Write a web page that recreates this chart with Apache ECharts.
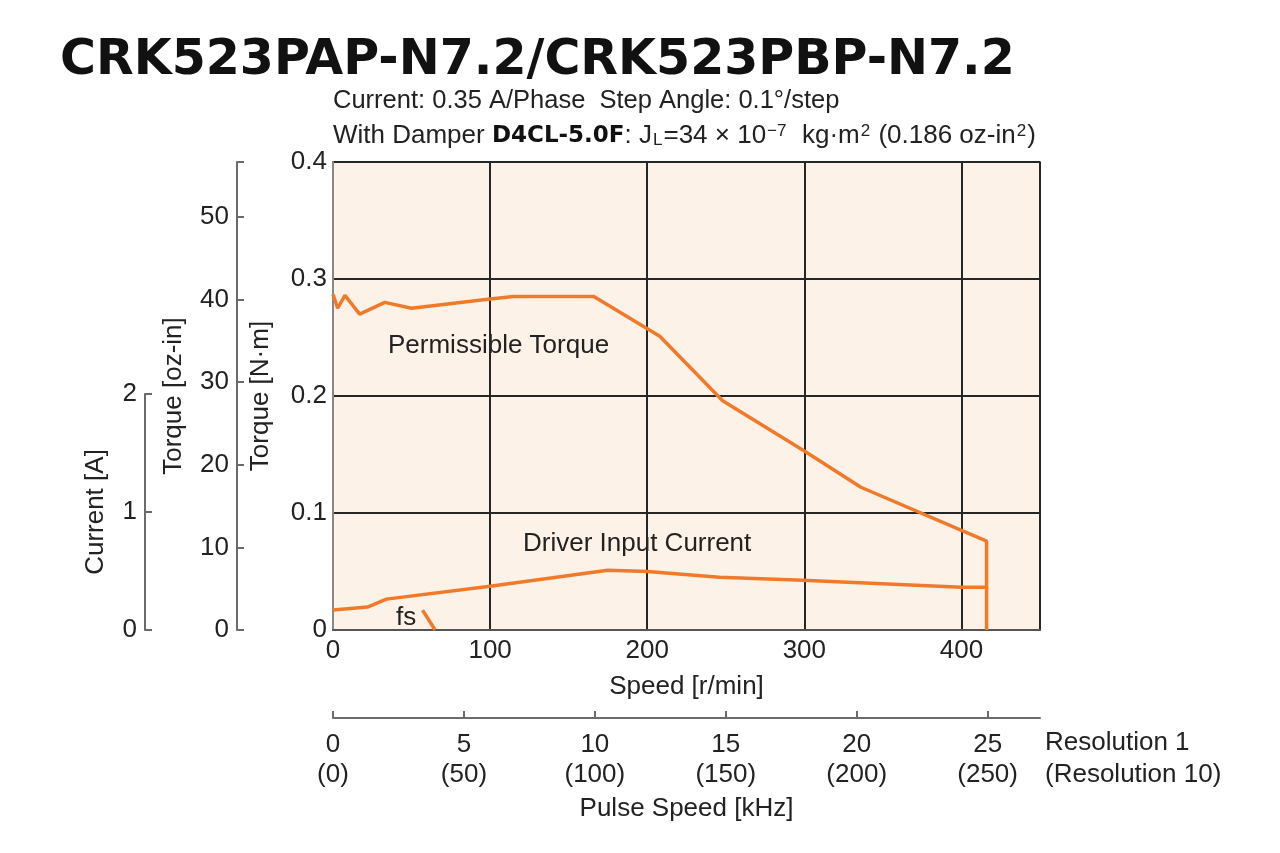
<!DOCTYPE html>
<html>
<head>
<meta charset="utf-8">
<script src="https://cdn.jsdelivr.net/npm/echarts@6/dist/echarts.min.js"></script>
<style>html,body{margin:0;padding:0;background:#fff}#c{width:1280px;height:853px}</style>
</head>
<body>
<div id="c"></div>
<script>
// ---- data ----
const speedTorque = [0, 3, 7.6, 17, 33, 50, 100, 115, 166, 208, 248, 300, 336, 416, 416];
const torqueNm    = [0.287, 0.275, 0.286, 0.270, 0.280, 0.275, 0.283, 0.285, 0.285, 0.251, 0.196, 0.153, 0.122, 0.076, 0];
const speedCurrent = [0, 22, 34, 100, 175, 200, 246, 299, 400, 416];
const currentA     = [0.17, 0.196, 0.264, 0.374, 0.51, 0.50, 0.45, 0.425, 0.366, 0.366];
const speedFs = [57, 65];
const torqueFs = [0.017, 0];
const speedTicks = [0, 100, 200, 300, 400];
const pulseTicks = [0, 5, 10, 15, 20, 25];
const torqueTicks = [0, 0.1, 0.2, 0.3, 0.4];
const ozinTicks = [0, 10, 20, 30, 40, 50];
const currentTicks = [0, 1, 2];

const SPEED_MAX = 450;
const RPM_PER_KHZ = 1000 * 0.1 / 360 * 60; // step angle 0.1 deg
const NM_PER_OZIN = 0.0070616;
const TORQUE_MAX = 0.4;
const OZIN_MAX = TORQUE_MAX / NM_PER_OZIN;

const FF = '"Liberation Sans", Arial, sans-serif';
const ORANGE = '#f07a2a';
const TXT = '#222';
const AX = '#6b6b6b';

const zip = (a, b) => a.map((v, i) => [v, b[i]]);

const chart = echarts.init(document.getElementById('c'), null, {renderer: 'canvas'});

const labelStyle = {color: TXT, fontFamily: FF, fontSize: 26};
const nameStyle = {color: TXT, fontFamily: FF, fontSize: 26};

chart.setOption({
  backgroundColor: '#fff',
  animation: false,
  grid: [
    {left: 333, right: 240, top: 162, bottom: 223, show: true, backgroundColor: '#fdf2e8', borderColor: '#888', borderWidth: 2, containLabel: false},
    {left: 145, width: 1, top: 394, bottom: 223, show: false}
  ],
  xAxis: [
    {
      type: 'value', gridIndex: 0, min: 0, max: SPEED_MAX, interval: 100,
      axisLine: {show: true, onZero: false, lineStyle: {color: '#555', width: 2}},
      axisTick: {show: false},
      splitLine: {show: true, lineStyle: {color: '#262626', width: 2}},
      axisLabel: Object.assign({margin: 8, customValues: speedTicks}, labelStyle),
      name: 'Speed [r/min]', nameLocation: 'middle', nameGap: 44, nameTextStyle: nameStyle
    },
    {
      type: 'value', gridIndex: 0, position: 'bottom', offset: 88,
      min: 0, max: SPEED_MAX / RPM_PER_KHZ, interval: 5,
      axisLine: {show: true, onZero: false, lineStyle: {color: AX, width: 2}},
      axisTick: {show: true, inside: true, length: 7, lineStyle: {color: AX, width: 2}, customValues: pulseTicks},
      splitLine: {show: false},
      axisLabel: Object.assign({margin: 12, lineHeight: 30, customValues: pulseTicks,
        formatter: v => v + '\n(' + (v * 10) + ')'}, labelStyle),
      name: 'Pulse Speed [kHz]', nameLocation: 'middle', nameGap: 78, nameTextStyle: nameStyle
    },
    {type: 'value', gridIndex: 1, show: false, min: 0, max: 1}
  ],
  yAxis: [
    {
      type: 'value', gridIndex: 0, min: 0, max: TORQUE_MAX, interval: 0.1,
      axisLine: {show: true, onZero: false, lineStyle: {color: '#888', width: 2}},
      axisTick: {show: false},
      splitLine: {show: true, lineStyle: {color: '#262626', width: 2}},
      axisLabel: Object.assign({margin: 6, customValues: torqueTicks, formatter: v => String(v)}, labelStyle),
      name: 'Torque [N·m]', nameLocation: 'middle', nameRotate: 90, nameGap: 59, nameTextStyle: nameStyle
    },
    {
      type: 'value', gridIndex: 0, position: 'left', offset: 96,
      min: 0, max: OZIN_MAX, interval: 10,
      axisLine: {show: true, onZero: false, lineStyle: {color: AX, width: 2}},
      axisTick: {show: true, inside: true, length: 7, lineStyle: {color: AX, width: 2}, customValues: ozinTicks.concat([OZIN_MAX])},
      splitLine: {show: false},
      axisLabel: Object.assign({margin: 8, customValues: ozinTicks}, labelStyle),
      name: 'Torque [oz-in]', nameLocation: 'middle', nameRotate: 90, nameGap: 50, nameTextStyle: nameStyle
    },
    {
      type: 'value', gridIndex: 1, min: 0, max: 2, interval: 1,
      axisLine: {show: true, onZero: false, lineStyle: {color: AX, width: 2}},
      axisTick: {show: true, inside: true, length: 7, lineStyle: {color: AX, width: 2}, customValues: currentTicks},
      splitLine: {show: false},
      axisLabel: Object.assign({margin: 8, customValues: currentTicks}, labelStyle),
      name: 'Current [A]', nameLocation: 'middle', nameRotate: 90, nameGap: 36, nameTextStyle: nameStyle
    },
    {type: 'value', gridIndex: 0, show: false, min: 0, max: TORQUE_MAX * 10}
  ],
  series: [
    {name: 'Permissible Torque', type: 'line', xAxisIndex: 0, yAxisIndex: 0, data: zip(speedTorque, torqueNm),
      showSymbol: false, lineStyle: {color: ORANGE, width: 3.5}, z: 5},
    {name: 'Driver Input Current', type: 'line', xAxisIndex: 0, yAxisIndex: 3, data: zip(speedCurrent, currentA),
      showSymbol: false, lineStyle: {color: ORANGE, width: 3.5}, z: 5},
    {name: 'fs', type: 'line', xAxisIndex: 0, yAxisIndex: 0, data: zip(speedFs, torqueFs),
      showSymbol: false, lineStyle: {color: ORANGE, width: 3.5}, z: 5}
  ],
  graphic: [
    {type: 'text', left: 60, top: 37, style: {text: 'CRK523PAP-N7.2/CRK523PBP-N7.2', font: 'bold 49px "DejaVu Sans", sans-serif', fill: '#111'}},
    {type: 'text', left: 333, top: 88, style: {text: 'Current: 0.35 A/Phase  Step Angle: 0.1°/step', font: '25.5px ' + FF, fill: TXT}},
    {type: 'text', left: 333, top: 123, style: {
      text: '{n|With Damper }{b|D4CL-5.0F}{n|: J}{sub|L}{n|=34 × 10}{sup|−7}{n|  kg·m}{sup|2}{n| (0.186 oz-in}{sup|2}{n|)}',
      fill: TXT,
      rich: {
        n: {font: '26px ' + FF, fill: TXT},
        b: {font: 'bold 23px "DejaVu Sans", sans-serif', fill: '#111'},
        sub: {font: '17px ' + FF, fill: TXT, verticalAlign: 'bottom', padding: [6, 1, 0, 1]},
        sup: {font: '17px ' + FF, fill: TXT, verticalAlign: 'top', padding: [0, 1, 8, 1]}
      }
    }},
    {type: 'text', left: 388, top: 333, style: {text: 'Permissible Torque', font: '26px ' + FF, fill: TXT}},
    {type: 'text', left: 523, top: 531, style: {text: 'Driver Input Current', font: '26px ' + FF, fill: TXT}},
    {type: 'text', left: 396, top: 605, style: {text: 'fs', font: '26px ' + FF, fill: TXT}},
    {type: 'text', left: 1045, top: 730, style: {text: 'Resolution 1', font: '26px ' + FF, fill: TXT}},
    {type: 'text', left: 1045, top: 762, style: {text: '(Resolution 10)', font: '26px ' + FF, fill: TXT}}
  ]
});
</script>
</body>
</html>
